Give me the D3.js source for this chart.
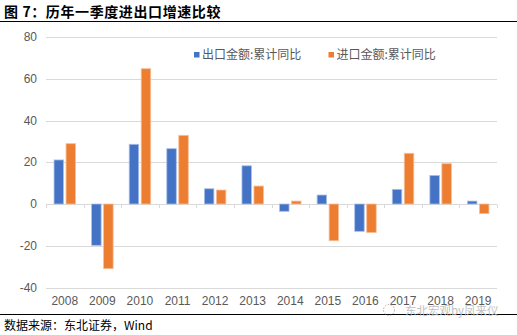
<!DOCTYPE html>
<html><head><meta charset="utf-8">
<script src="https://cdn.jsdelivr.net/npm/d3@7"></script>
<style>body{margin:0;background:#fff}svg{display:block}</style>
</head><body>
<svg id="c" width="517" height="335"></svg>
<script>
const years = ["2008","2009","2010","2011","2012","2013","2014","2015","2016","2017","2018","2019"];
const exportYoY = [21.1, -19.8, 28.6, 26.5, 7.3, 18.3, -3.5, 4.3, -13.1, 7.0, 13.7, 1.4];
const importYoY = [28.9, -31.0, 64.8, 32.9, 6.7, 8.6, 1.4, -17.6, -13.7, 24.3, 19.3, -4.6];
const seriesNames = ["出口金额:累计同比", "进口金额:累计同比"];
const yTicks = [-40, -20, 0, 20, 40, 60, 80];
const title = "图 7：历年一季度进出口增速比较";
const source = "数据来源：东北证券，Wind";
const watermark = "东北宏观by凤来仪";

const svg = d3.select("#c");
const colors = ["#4472C4", "#ED7D31"];
const strokes = ["#a8c0ea", "#f7bf98"];
const axisFont = "'Liberation Sans', Arial, sans-serif";
const cjkFont = "'Noto Sans CJK SC', sans-serif";

// title
svg.append("text").attr("x", 4).attr("y", 17).text(title)
  .attr("font-family", cjkFont).attr("font-weight", "bold").attr("font-size", 14)
  .attr("letter-spacing", 0.6).attr("fill", "#000");
svg.append("line").attr("x1", 0).attr("x2", 517).attr("y1", 21.5).attr("y2", 21.5)
  .attr("stroke", "#000").attr("stroke-width", 1.2);

const x = d3.scaleBand().domain(years).range([46, 497]);
const y = d3.scaleLinear().domain([-40, 80]).range([287.5, 37]);

// gridlines
svg.append("g").selectAll("line").data(yTicks).join("line")
  .attr("x1", 46).attr("x2", 497)
  .attr("y1", d => Math.round(y(d)) + 0.5).attr("y2", d => Math.round(y(d)) + 0.5)
  .attr("stroke", "#d9d9d9").attr("stroke-width", 1);

// y labels
svg.append("g").selectAll("text").data(yTicks).join("text")
  .attr("x", 37).attr("y", d => y(d)).attr("dy", "0.35em").attr("text-anchor", "end")
  .text(d => d).attr("font-family", axisFont).attr("font-size", 12).attr("fill", "#595959");

// zero axis ticks
const bounds = years.map(d => x(d)).concat([x.range()[1]]);
svg.append("g").selectAll("line").data(bounds).join("line")
  .attr("x1", d => Math.round(d) + 0.5).attr("x2", d => Math.round(d) + 0.5)
  .attr("y1", Math.round(y(0)) + 0.5).attr("y2", Math.round(y(0)) + 4)
  .attr("stroke", "#d9d9d9");

// bars
const barW = 9.5, gap = 2.5;
const data = [exportYoY, importYoY];
data.forEach((vals, si) => {
  svg.append("g").selectAll("rect").data(vals).join("rect")
    .attr("x", (d, i) => x(years[i]) + x.bandwidth() / 2 + (si === 0 ? -gap / 2 - barW : gap / 2))
    .attr("width", barW)
    .attr("y", d => y(Math.max(0, d)))
    .attr("height", d => Math.abs(y(d) - y(0)))
    .attr("fill", colors[si]).attr("stroke", strokes[si]).attr("stroke-width", 0.8);
});

// x labels
svg.append("g").selectAll("text").data(years).join("text")
  .attr("x", d => x(d) + x.bandwidth() / 2).attr("y", 300.5).attr("dy", "0.35em")
  .attr("text-anchor", "middle").text(d => d)
  .attr("font-family", axisFont).attr("font-size", 12).attr("fill", "#595959");

// legend
const legX = [194, 328.5];
seriesNames.forEach((n, i) => {
  svg.append("rect").attr("x", legX[i]).attr("y", 52).attr("width", 5.5).attr("height", 5.5).attr("fill", colors[i]);
  svg.append("text").attr("x", legX[i] + 8).attr("y", 55).attr("dy", "0.35em").text(n)
    .attr("font-family", cjkFont).attr("font-size", 12).attr("fill", "#595959");
});

// bottom line and source
svg.append("line").attr("x1", 0).attr("x2", 517).attr("y1", 314.5).attr("y2", 314.5)
  .attr("stroke", "#000").attr("stroke-width", 1.2);
svg.append("text").attr("x", 4).attr("y", 330).text(source)
  .attr("font-family", cjkFont).attr("font-size", 12).attr("fill", "#000");

// watermark
svg.append("circle").attr("cx", 389).attr("cy", 310).attr("r", 5.5)
  .attr("fill", "none").attr("stroke", "#999").attr("stroke-dasharray", "1.5,1.5").attr("opacity", 0.8);
svg.append("text").attr("x", 405).attr("y", 311).attr("dy", "0.35em").text(watermark)
  .attr("font-family", cjkFont).attr("font-size", 11.5).attr("fill", "#bbb").attr("opacity", 0.9);
</script>
</body></html>
